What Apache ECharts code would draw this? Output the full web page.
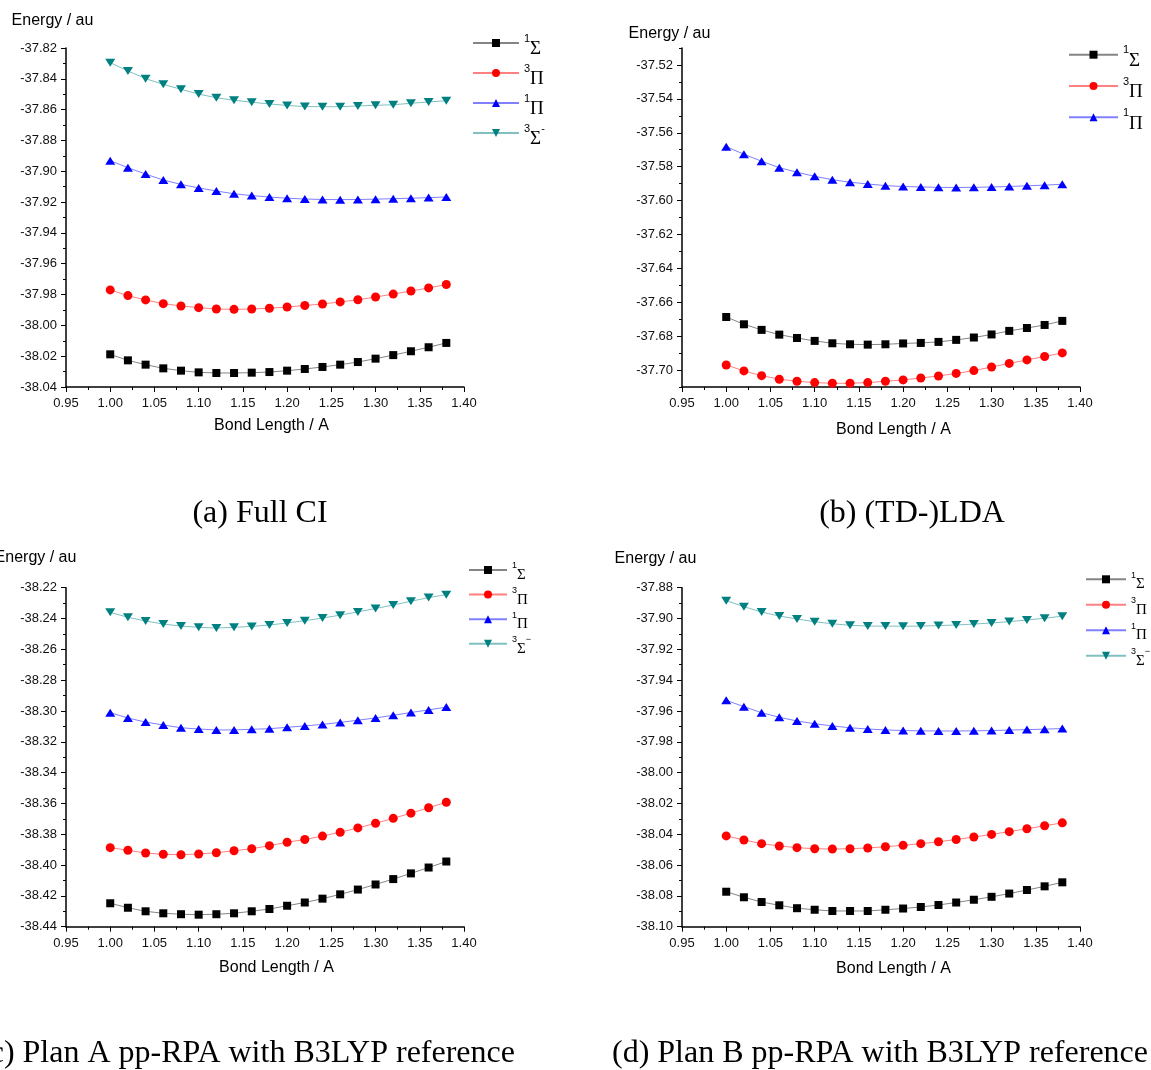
<!DOCTYPE html>
<html>
<head>
<meta charset="utf-8">
<script src="https://cdn.jsdelivr.net/npm/echarts@6/dist/echarts.min.js"></script>
<style>
  html, body { margin: 0; padding: 0; background: #ffffff; }
  #chart { width: 1151px; height: 1070px; }
</style>
</head>
<body>
<div id="chart"></div>
<script>
// Bond lengths (Å) at which every state was computed
const bondLength = [1.00, 1.02, 1.04, 1.06, 1.08, 1.10, 1.12, 1.14, 1.16, 1.18,
                    1.20, 1.22, 1.24, 1.26, 1.28, 1.30, 1.32, 1.34, 1.36, 1.38];

// (a) Full CI energies (au)
const fullCI_1Sigma = [-38.0188, -38.0227, -38.0255, -38.0279, -38.0294, -38.0305, -38.0309, -38.0309, -38.0307, -38.0303,
                       -38.0294, -38.0283, -38.0270, -38.0255, -38.0238, -38.0216, -38.0193, -38.0168, -38.0142, -38.0114];
const fullCI_3Pi = [-37.9770, -37.9807, -37.9835, -37.9859, -37.9874, -37.9885, -37.9894, -37.9896, -37.9894, -37.9889,
                    -37.9881, -37.9871, -37.9861, -37.9848, -37.9834, -37.9816, -37.9797, -37.9777, -37.9757, -37.9735];
const fullCI_1Pi = [-37.8931, -37.8977, -37.9018, -37.9057, -37.9085, -37.9108, -37.9128, -37.9146, -37.9158, -37.9167,
                    -37.9175, -37.9180, -37.9183, -37.9184, -37.9183, -37.9181, -37.9178, -37.9175, -37.9171, -37.9167];
const fullCI_3SigmaMinus = [-37.8295, -37.8349, -37.8399, -37.8436, -37.8468, -37.8499, -37.8523, -37.8539, -37.8552, -37.8563,
                            -37.8573, -37.8580, -37.8581, -37.8581, -37.8576, -37.8572, -37.8568, -37.8559, -37.8550, -37.8542];

// (b) (TD-)LDA energies (au)
const lda_1Sigma = [-37.6687, -37.6730, -37.6763, -37.6791, -37.6811, -37.6828, -37.6842, -37.6848, -37.6850, -37.6848,
                    -37.6843, -37.6840, -37.6834, -37.6822, -37.6808, -37.6790, -37.6769, -37.6752, -37.6734, -37.6710];
const lda_3Pi = [-37.6970, -37.7005, -37.7033, -37.7054, -37.7066, -37.7074, -37.7078, -37.7078, -37.7074, -37.7066,
                 -37.7058, -37.7047, -37.7035, -37.7020, -37.7003, -37.6982, -37.6961, -37.6940, -37.6920, -37.6899];
const lda_1Pi = [-37.5682, -37.5727, -37.5768, -37.5806, -37.5833, -37.5857, -37.5877, -37.5892, -37.5902, -37.5912,
                 -37.5917, -37.5920, -37.5922, -37.5923, -37.5922, -37.5920, -37.5917, -37.5913, -37.5909, -37.5904];

// (c) Plan A pp-RPA with B3LYP reference (au)
const planA_1Sigma = [-38.4248, -38.4277, -38.4300, -38.4313, -38.4319, -38.4322, -38.4319, -38.4313, -38.4300, -38.4285,
                      -38.4264, -38.4243, -38.4218, -38.4190, -38.4159, -38.4126, -38.4091, -38.4054, -38.4016, -38.3977];
const planA_3Pi = [-38.3887, -38.3904, -38.3922, -38.3930, -38.3933, -38.3928, -38.3920, -38.3907, -38.3894, -38.3874,
                   -38.3852, -38.3834, -38.3812, -38.3787, -38.3759, -38.3729, -38.3697, -38.3663, -38.3628, -38.3592];
const planA_1Pi = [-38.3011, -38.3046, -38.3072, -38.3091, -38.3109, -38.3117, -38.3123, -38.3123, -38.3119, -38.3115,
                   -38.3106, -38.3097, -38.3087, -38.3074, -38.3060, -38.3045, -38.3028, -38.3010, -38.2993, -38.2975];
const planA_3SigmaMinus = [-38.2360, -38.2392, -38.2416, -38.2436, -38.2449, -38.2457, -38.2462, -38.2457, -38.2451, -38.2442,
                           -38.2429, -38.2414, -38.2397, -38.2378, -38.2357, -38.2335, -38.2312, -38.2288, -38.2264, -38.2245];

// (d) Plan B pp-RPA with B3LYP reference (au)
const planB_1Sigma = [-38.0773, -38.0809, -38.0840, -38.0861, -38.0880, -38.0890, -38.0898, -38.0898, -38.0898, -38.0890,
                      -38.0882, -38.0872, -38.0859, -38.0843, -38.0825, -38.0806, -38.0785, -38.0762, -38.0738, -38.0712];
const planB_3Pi = [-38.0411, -38.0437, -38.0461, -38.0476, -38.0487, -38.0494, -38.0496, -38.0494, -38.0489, -38.0481,
                   -38.0472, -38.0461, -38.0449, -38.0434, -38.0418, -38.0401, -38.0383, -38.0364, -38.0345, -38.0326];
const planB_1Pi = [-37.9531, -37.9572, -37.9611, -37.9641, -37.9665, -37.9683, -37.9697, -37.9709, -37.9717, -37.9723,
                   -37.9727, -37.9729, -37.9730, -37.9730, -37.9729, -37.9727, -37.9724, -37.9721, -37.9718, -37.9714];
const planB_3SigmaMinus = [-37.8884, -37.8923, -37.8958, -37.8984, -37.9003, -37.9021, -37.9034, -37.9044, -37.9049, -37.9049,
                           -37.9050, -37.9049, -37.9046, -37.9042, -37.9036, -37.9029, -37.9020, -37.9010, -37.8998, -37.8985];

// Labelled energy ticks of each panel
const yTicksA = [-38.04, -38.02, -38.00, -37.98, -37.96, -37.94, -37.92, -37.90, -37.88, -37.86, -37.84, -37.82];
const yTicksB = [-37.70, -37.68, -37.66, -37.64, -37.62, -37.60, -37.58, -37.56, -37.54, -37.52];
const yTicksC = [-38.44, -38.42, -38.40, -38.38, -38.36, -38.34, -38.32, -38.30, -38.28, -38.26, -38.24, -38.22];
const yTicksD = [-38.10, -38.08, -38.06, -38.04, -38.02, -38.00, -37.98, -37.96, -37.94, -37.92, -37.90, -37.88];

// Marker / line styling of each electronic state
const STATES = {
  s1:  { name: '¹Σ',  symbol: 'rect',     size: 8,       color: '#000000', line: '#858585' },
  p3:  { name: '³Π',  symbol: 'circle',   size: 9,       color: '#ff0000', line: '#ff8080' },
  p1:  { name: '¹Π',  symbol: 'triangle', size: [10, 8], color: '#0000ff', line: '#8080ff' },
  s3m: { name: '³Σ⁻', symbol: 'path://M0,0L10,0L5,8Z', size: [10, 8], color: '#008080', line: '#80c0c0' }
};

const FONT = '"Liberation Sans", Arial, sans-serif';
const SERIF = '"Liberation Serif", "Times New Roman", serif';

const panels = [
  {
    grid: { left: 66, top: 48, width: 398, height: 339 },
    yMin: -38.04, yMax: -37.82, yTicks: yTicksA,
    curves: [['s1', fullCI_1Sigma], ['p3', fullCI_3Pi], ['p1', fullCI_1Pi], ['s3m', fullCI_3SigmaMinus]],
    yName: { gap: 27, shift: 27 }, xName: { gap: 39, shift: 13 },
    legend: { left: 472, top: 33, itemWidth: 46, itemGap: 4, big: true, minus: '-' },
    caption: { text: '(a) Full CI', x: 260, y: 514 }
  },
  {
    grid: { left: 682, top: 48, width: 398, height: 339 },
    yMin: -37.71, yMax: -37.51, yTicks: yTicksB,
    curves: [['s1', lda_1Sigma], ['p3', lda_3Pi], ['p1', lda_1Pi]],
    yName: { gap: 14, shift: 25 }, xName: { gap: 43, shift: 25 },
    legend: { left: 1068, top: 44.7, itemWidth: 49, itemGap: 5.3, big: true, minus: '-' },
    caption: { text: '(b) (TD-)LDA', x: 912, y: 514 }
  },
  {
    grid: { left: 66, top: 587.7, width: 398, height: 339 },
    yMin: -38.44, yMax: -38.22, yTicks: yTicksC,
    curves: [['s1', planA_1Sigma], ['p3', planA_3Pi], ['p1', planA_1Pi], ['s3m', planA_3SigmaMinus]],
    yName: { gap: 30, shift: 61 }, xName: { gap: 41, shift: 23 },
    legend: { left: 468, top: 561.5, itemWidth: 38, itemGap: 3.6, big: false, minus: '−' },
    caption: { text: '(c) Plan A pp-RPA with B3LYP reference', x: 247, y: 1054 }
  },
  {
    grid: { left: 682, top: 587.7, width: 398, height: 339 },
    yMin: -38.10, yMax: -37.88, yTicks: yTicksD,
    curves: [['s1', planB_1Sigma], ['p3', planB_3Pi], ['p1', planB_1Pi], ['s3m', planB_3SigmaMinus]],
    yName: { gap: 29, shift: 53 }, xName: { gap: 42, shift: 25 },
    legend: { left: 1085, top: 570.8, itemWidth: 40, itemGap: 4.5, big: false, minus: '−' },
    caption: { text: '(d) Plan B pp-RPA with B3LYP reference', x: 880, y: 1054 }
  }
];

function legendRich(big) {
  return {
    sup: { fontFamily: FONT, fontSize: big ? 11 : 9, lineHeight: big ? 10 : 9, verticalAlign: 'top', color: '#000' },
    sym: { fontFamily: SERIF, fontSize: big ? 19 : 15, lineHeight: big ? 26 : 21, verticalAlign: 'bottom', color: '#000' }
  };
}

function legendLabel(name, minus) {
  const sup = name.charAt(0) === '¹' ? '1' : '3';
  const body = name.indexOf('Σ') >= 0 ? 'Σ' : 'Π';
  const tail = name.indexOf('⁻') >= 0 ? '{sup|' + minus + '}' : '';
  return '{sup|' + sup + '}{sym|' + body + '}' + tail;
}

const option = {
  animation: false,
  backgroundColor: '#ffffff',
  grid: [], xAxis: [], yAxis: [], series: [], legend: [], graphic: []
};

panels.forEach(function (p, i) {
  option.grid.push(Object.assign({ outerBoundsMode: 'none', containLabel: false }, p.grid));

  option.xAxis.push({
    type: 'value', gridIndex: i, min: 0.95, max: 1.40, interval: 0.05,
    axisLine: { lineStyle: { color: '#000', width: 1.5 } },
    axisTick: { length: 5, lineStyle: { color: '#000', width: 1 } },
    minorTick: { show: true, splitNumber: 2, length: 3, lineStyle: { color: '#000', width: 1 } },
    splitLine: { show: false },
    axisLabel: { color: '#111', fontFamily: FONT, fontSize: 13, margin: 10,
                 formatter: function (v) { return v.toFixed(2); } },
    name: 'Bond Length / A', nameLocation: 'middle', nameGap: p.xName.gap,
    nameTextStyle: { color: '#000', fontFamily: FONT, fontSize: 16, verticalAlign: 'middle',
                     padding: [0, 0, 0, p.xName.shift] }
  });

  // labelled (major) energy axis
  option.yAxis.push({
    type: 'value', gridIndex: i, position: 'left', min: p.yMin, max: p.yMax,
    axisLine: { lineStyle: { color: '#000', width: 1.5 } },
    axisTick: { customValues: p.yTicks, length: 5, lineStyle: { color: '#000', width: 1 } },
    splitLine: { show: false },
    axisLabel: { customValues: p.yTicks, color: '#111', fontFamily: FONT, fontSize: 13, margin: 9,
                 formatter: function (v) { return v.toFixed(2); } },
    name: 'Energy / au', nameLocation: 'end', nameGap: p.yName.gap,
    nameTextStyle: { color: '#000', fontFamily: FONT, fontSize: 16, align: 'center', verticalAlign: 'middle',
                     padding: [0, p.yName.shift, 0, 0] }
  });
  // minor ticks every 0.01 au
  option.yAxis.push({
    type: 'value', gridIndex: i, position: 'left', min: p.yMin, max: p.yMax, interval: 0.01,
    axisLine: { show: false },
    axisTick: { length: 3, lineStyle: { color: '#000', width: 1 } },
    axisLabel: { show: false }, splitLine: { show: false }
  });

  const names = [];
  p.curves.forEach(function (c) {
    const st = STATES[c[0]];
    names.push(st.name);
    option.series.push({
      type: 'line', name: st.name, xAxisIndex: i, yAxisIndex: 2 * i,
      data: bondLength.map(function (x, k) { return [x, c[1][k]]; }),
      symbol: st.symbol, symbolSize: st.size,
      itemStyle: { color: st.color },
      lineStyle: { color: st.line, width: 1 },
      emphasis: { disabled: true }, z: 3
    });
  });

  option.legend.push({
    orient: 'vertical', left: p.legend.left, top: p.legend.top,
    itemWidth: p.legend.itemWidth, itemHeight: 10, itemGap: p.legend.itemGap,
    data: names, selectedMode: false, padding: 0,
    formatter: function (n) { return legendLabel(n, p.legend.minus); },
    textStyle: { rich: legendRich(p.legend.big), padding: [p.legend.big ? 6 : 4, 0, 0, 0] }
  });

  option.graphic.push({
    type: 'text', x: p.caption.x, y: p.caption.y,
    style: { text: p.caption.text, fontFamily: SERIF, fontSize: 32, fill: '#000',
             align: 'center', verticalAlign: 'middle' }
  });
});

const chart = echarts.init(document.getElementById('chart'), null, { renderer: 'canvas' });
chart.setOption(option);
</script>
</body>
</html>
